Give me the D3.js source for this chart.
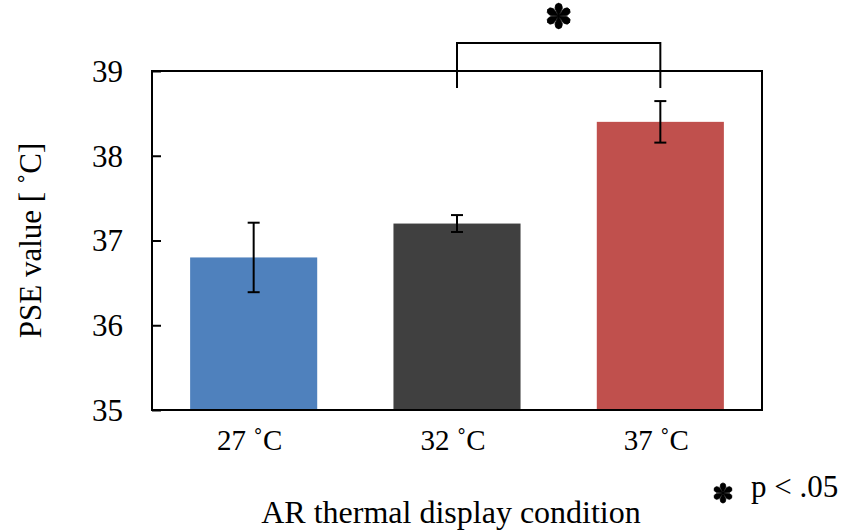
<!DOCTYPE html>
<html>
<head>
<meta charset="utf-8">
<script src="https://cdn.jsdelivr.net/npm/d3@7"></script>
<style>
  html, body { margin: 0; padding: 0; background: #fff; }
  svg { display: block; }
  .serif { font-family: "Liberation Serif", "Times New Roman", serif; }
</style>
</head>
<body>
<svg id="chart" width="845" height="531"></svg>
<script>
// Conditions, mean PSE values and error half-widths
const categories = ["27 ˚C", "32 ˚C", "37 ˚C"];
const pseValues = [36.80, 37.20, 38.40];
const errorValues = [0.41, 0.10, 0.245];
const barColors = ["#4F81BD", "#404040", "#C0504D"];
const yTicks = [35, 36, 37, 38, 39];
// Pair of conditions compared with a significance bracket
const significantPair = ["32 ˚C", "37 ˚C"];

const W = 845, H = 531;
const margin = { top: 71, right: 83, bottom: 121, left: 152 };
const innerW = W - margin.left - margin.right;
const innerH = H - margin.top - margin.bottom;

const svg = d3.select("#chart");
const g = svg.append("g").attr("transform", `translate(${margin.left},${margin.top})`);

const x = d3.scaleBand().domain(categories).range([0, innerW]).paddingInner(0.375).paddingOuter(0.1875);
const y = d3.scaleLinear().domain([35, 39]).range([innerH, 0]);

// Bars
g.selectAll("rect.bar")
  .data(categories)
  .join("rect")
  .attr("class", "bar")
  .attr("x", d => x(d))
  .attr("width", x.bandwidth())
  .attr("y", (d, i) => y(pseValues[i]))
  .attr("height", (d, i) => y(35) - y(pseValues[i]))
  .attr("fill", (d, i) => barColors[i]);

// Error bars
const capHalf = 6;
const eb = g.selectAll("g.err").data(categories).join("g").attr("class", "err")
  .attr("stroke", "#000").attr("stroke-width", 2);
eb.append("line")
  .attr("x1", d => x(d) + x.bandwidth() / 2).attr("x2", d => x(d) + x.bandwidth() / 2)
  .attr("y1", (d, i) => y(pseValues[i] + errorValues[i]))
  .attr("y2", (d, i) => y(pseValues[i] - errorValues[i]));
[1, -1].forEach(s => {
  eb.append("line")
    .attr("x1", d => x(d) + x.bandwidth() / 2 - capHalf)
    .attr("x2", d => x(d) + x.bandwidth() / 2 + capHalf)
    .attr("y1", (d, i) => y(pseValues[i] + s * errorValues[i]))
    .attr("y2", (d, i) => y(pseValues[i] + s * errorValues[i]));
});

// Left axis: inward tick marks from d3.axisLeft, serif labels placed with the same scale
const ya = g.append("g").call(d3.axisLeft(y).tickValues(yTicks).tickSize(-9).tickFormat(""));
ya.select(".domain").remove();
ya.selectAll(".tick line").attr("stroke", "#000").attr("stroke-width", 2);
g.append("g").selectAll("text")
  .data(yTicks)
  .join("text")
  .attr("class", "serif")
  .attr("x", -29)
  .attr("y", d => y(d))
  .attr("dy", "0.35em")
  .attr("text-anchor", "end")
  .attr("font-size", 31)
  .attr("fill", "#000")
  .text(d => d3.format("d")(d));

// Frame around the plot area
g.append("rect")
  .attr("x", 0).attr("y", 0).attr("width", innerW).attr("height", innerH)
  .attr("fill", "none").attr("stroke", "#000").attr("stroke-width", 2);

// Category labels
g.append("g").selectAll("text")
  .data(categories)
  .join("text")
  .attr("class", "serif")
  .attr("x", d => x(d) + x.bandwidth() / 2 - 4)
  .attr("y", innerH + 40)
  .attr("text-anchor", "middle")
  .attr("font-size", 29)
  .attr("fill", "#000")
  .text(d => d);

// Axis titles
svg.append("text")
  .attr("class", "serif")
  .attr("transform", `translate(41,${margin.top + innerH / 2}) rotate(-90)`)
  .attr("text-anchor", "middle")
  .attr("font-size", 31).attr("fill", "#000")
  .text("PSE value [ ˚C]");

svg.append("text")
  .attr("class", "serif")
  .attr("x", margin.left + innerW / 2 - 6).attr("y", 523)
  .attr("text-anchor", "middle")
  .attr("font-size", 32).attr("fill", "#000")
  .text("AR thermal display condition");

// Six-petal asterisk glyph
function asteriskPath(L, r) {
  const p = d3.path();
  for (let k = 0; k < 6; k++) {
    const a = k * Math.PI / 3;
    const rot = (px, py) => [px * Math.cos(a) - py * Math.sin(a), px * Math.sin(a) + py * Math.cos(a)];
    const p0 = rot(0, 0), p1 = rot(-r * 0.9, -(L - r)), p2 = rot(r * 0.9, -(L - r));
    p.moveTo(p0[0], p0[1]);
    p.lineTo(p1[0], p1[1]);
    p.arcTo(...rot(-r * 0.9, -L - r * 0.3), ...rot(0, -L - r * 0.3), r);
    p.arcTo(...rot(r * 0.9, -L - r * 0.3), ...p2, r);
    p.lineTo(p2[0], p2[1]);
    p.closePath();
  }
  return p.toString();
}

// Significance bracket between the compared conditions
const bx1 = x(significantPair[0]) + x.bandwidth() / 2;
const bx2 = x(significantPair[1]) + x.bandwidth() / 2;
const bTop = -28, bBottom = 17;
g.append("path")
  .attr("d", `M${bx1},${bBottom}V${bTop}H${bx2}V${bBottom}`)
  .attr("fill", "none").attr("stroke", "#000").attr("stroke-width", 2);
g.append("path")
  .attr("transform", `translate(${(bx1 + bx2) / 2},${bTop - 27})`)
  .attr("d", asteriskPath(11.5, 4))
  .attr("fill", "#000").attr("stroke", "#000").attr("stroke-width", 0.8);

// Significance note
svg.append("path")
  .attr("transform", "translate(723,493)")
  .attr("d", asteriskPath(9, 3.2))
  .attr("fill", "#000").attr("stroke", "#000").attr("stroke-width", 0.6);
svg.append("text")
  .attr("class", "serif")
  .attr("x", 751).attr("y", 497)
  .attr("font-size", 31)
  .attr("fill", "#000")
  .text("p < .05");
</script>
</body>
</html>
